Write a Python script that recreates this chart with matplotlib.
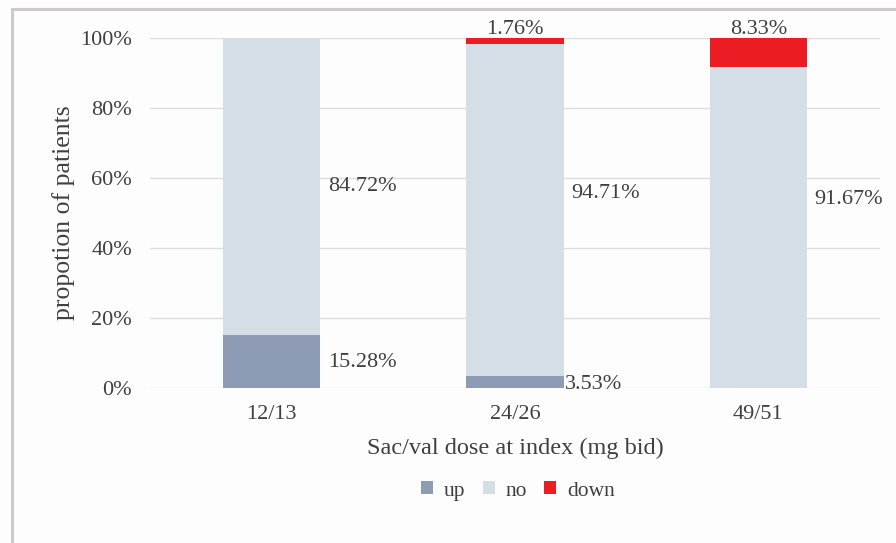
import numpy as np
import matplotlib
matplotlib.use('Agg')
import matplotlib.pyplot as plt
from matplotlib.patches import Rectangle
from matplotlib.ticker import PercentFormatter

# 剂量分组及各组调整比例
doses = ['12/13', '24/26', '49/51']
up = [15.28, 3.53, 0.0]
no = [84.72, 94.71, 91.67]
down = [0.0, 1.76, 8.33]

plt.rcParams['font.family'] = ['Liberation Serif', 'DejaVu Serif']
txt = '#404040'

fig = plt.figure(figsize=(8.96, 5.43), dpi=100, facecolor='#fdfdfd')
ax = fig.add_axes([150 / 896, 1 - 388 / 543, 730 / 896, 350 / 543])
ax.set_facecolor('#fdfdfd')

# 外框
fig.patches.append(Rectangle((12 / 896, -0.1), 1.2, 1 - 9 / 543 + 0.1,
                             transform=fig.transFigure, fill=False,
                             edgecolor='#cfcaca', linewidth=2.2, zorder=0))

x = np.arange(len(doses))
w = 0.4
up_a = np.array(up)
no_a = np.array(no)
down_a = np.array(down)
ax.bar(x, up_a, w, color='#8e9bb4', label='up', zorder=2)
ax.bar(x, no_a, w, bottom=up_a, color='#d3dee7', label='no', zorder=2)
ax.bar(x, down_a, w, bottom=up_a + no_a, color='#ec1c24', label='down', zorder=2)

ax.set_xlim(-0.5, len(doses) - 0.5)
ax.set_ylim(0, 100)
ax.set_yticks(np.arange(0, 101, 20))
ax.yaxis.set_major_formatter(PercentFormatter(decimals=0))
ax.grid(axis='y', color='#e0dcdc', linewidth=1, zorder=0)
for s in ax.spines.values():
    s.set_visible(False)
ax.tick_params(length=0, labelsize=16, colors=txt)
ax.tick_params(axis='y', pad=13)
ax.tick_params(axis='x', pad=12)
ax.set_xticks(x)
ax.set_xticklabels(doses)

ax.set_ylabel('propotion of patients', fontsize=18.5, color=txt, labelpad=4)
ax.set_xlabel('Sac/val dose at index (mg bid)', fontsize=17.5, color=txt, labelpad=10)

# 数据标签
fs = 16
no_y = [57.5, 55.5, 54.0]
for i in range(len(doses)):
    ax.text(x[i] + w / 2 + 0.03, no_y[i], f'{no[i]:.2f}%', fontsize=fs,
            color=txt, va='center', ha='left')
for i, yy in [(0, 7.4), (1, 1.0)]:
    ax.text(x[i] + w / 2 + (0.03 if i == 0 else 0.005), yy, f'{up[i]:.2f}%',
            fontsize=fs, color=txt, va='center', ha='left')
for i in [1, 2]:
    ax.text(x[i], 99.8, f'{down[i]:.2f}%', fontsize=fs, color=txt,
            va='bottom', ha='center')

leg = fig.legend(loc='center', bbox_to_anchor=(518 / 896, 1 - 491 / 543),
                 ncol=3, frameon=False, fontsize=15.5, handlelength=0.55,
                 handleheight=0.55, handletextpad=0.5, columnspacing=0.8)
for t in leg.get_texts():
    t.set_color(txt)

fig.savefig('out.png', dpi=100, facecolor=fig.get_facecolor())
